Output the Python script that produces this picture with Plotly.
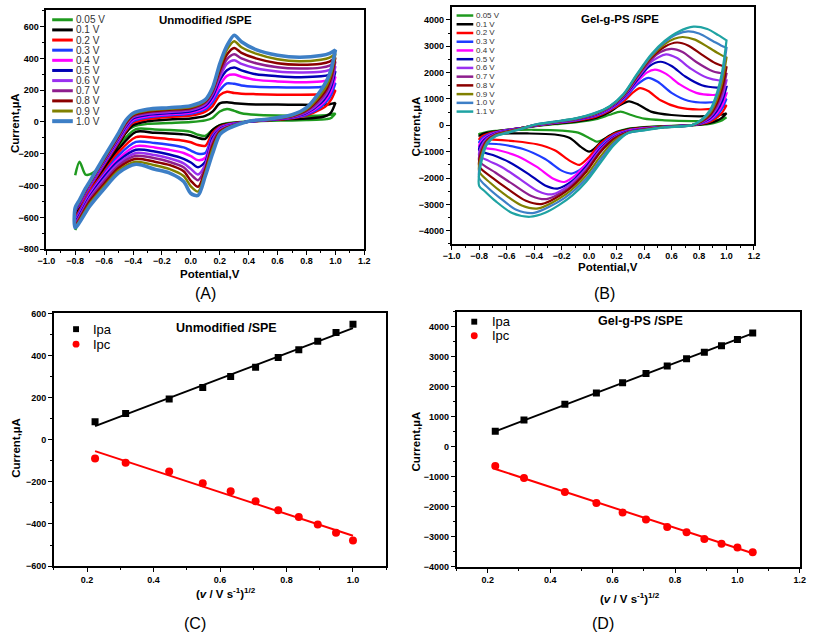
import plotly.graph_objects as go

W, H = 813, 642

# ---------------- Panel A data (Unmodified /SPE) ----------------
A_LABELS = ["0.05 V", "0.1 V", "0.2 V", "0.3 V", "0.4 V", "0.5 V", "0.6 V", "0.7 V", "0.8 V", "0.9 V", "1.0 V"]
A_COLORS = ["#1f9a1f", "#000000", "#ff0000", "#1f3cff", "#ff00ff", "#0000b4", "#9a30f0", "#8e1e8e", "#8b0000", "#808000", "#3d7fc6"]
A_E_UP = [-0.8, -0.77, -0.73, -0.7, -0.6, -0.5, -0.45, -0.4, -0.3, -0.15, 0.0,
          0.1, 0.15, 0.2, 0.25, 0.3, 0.35, 0.45, 0.6, 0.75, 0.9, 0.96, 1.0]
A_I_UP = [
    [-335, -250, -330, -330, -260, -130, -60, -30, -12, -6, 0, 10, 25, 66, 82, 70, 55, 45, 40, 38, 40, 45, 55],
    [-565, -525, -465, -420, -280, -140, -70, -20, 5, 16, 22, 38, 65, 117, 124, 118, 114, 110, 110, 108, 108, 112, 120],
    [-560, -520, -458, -413, -270, -128, -57, -5, 18, 32, 40, 65, 100, 169, 190, 182, 178, 175, 172, 172, 175, 182, 200],
    [-560, -518, -453, -406, -262, -120, -47, 5, 28, 42, 52, 80, 125, 200, 243, 240, 230, 222, 218, 217, 220, 230, 245],
    [-555, -513, -448, -400, -255, -112, -38, 14, 36, 49, 60, 92, 145, 231, 290, 298, 285, 265, 255, 250, 255, 265, 285],
    [-555, -510, -444, -396, -250, -105, -30, 22, 44, 56, 68, 102, 160, 262, 325, 342, 325, 300, 288, 282, 287, 298, 320],
    [-550, -506, -440, -392, -245, -98, -22, 30, 52, 63, 75, 112, 175, 283, 365, 388, 365, 338, 318, 312, 316, 328, 350],
    [-550, -503, -436, -388, -240, -92, -14, 36, 58, 70, 82, 120, 185, 304, 395, 426, 400, 370, 344, 336, 342, 355, 380],
    [-545, -500, -432, -385, -234, -85, -6, 42, 65, 77, 88, 128, 195, 324, 425, 466, 435, 400, 370, 360, 367, 380, 405],
    [-545, -495, -426, -380, -228, -78, 2, 48, 72, 83, 94, 134, 205, 345, 455, 508, 470, 430, 395, 382, 392, 405, 430],
    [-540, -490, -420, -375, -220, -70, 10, 55, 80, 90, 102, 140, 215, 366, 480, 546, 505, 455, 420, 407, 418, 432, 453],
]
A_E_LOW = [1.0, 0.97, 0.94, 0.9, 0.8, 0.7, 0.55, 0.4, 0.3, 0.25, 0.2, 0.15, 0.1, 0.05, 0.0,
           -0.05, -0.15, -0.25, -0.38, -0.5, -0.6, -0.7, -0.8]
A_I_LOW = [
    [55, 25, 18, 15, 12, 10, 8, 3, -3, -8, -20, -50, -88, -80, -62, -55, -50, -48, -45, -150, -300, -480, -680],
    [120, 60, 40, 30, 22, 18, 12, 2, -6, -12, -22, -50, -106, -100, -85, -78, -72, -68, -62, -170, -300, -430, -590],
    [200, 140, 105, 80, 42, 24, 13, 2, -8, -15, -30, -70, -150, -145, -128, -118, -108, -100, -95, -190, -315, -440, -600],
    [245, 170, 130, 95, 47, 26, 14, 2, -10, -18, -35, -85, -195, -200, -180, -160, -143, -132, -125, -210, -325, -450, -610],
    [285, 195, 148, 108, 52, 28, 15, 3, -12, -22, -40, -95, -225, -240, -215, -195, -175, -160, -152, -230, -335, -460, -620],
    [320, 220, 165, 120, 57, 30, 16, 3, -14, -25, -45, -100, -250, -285, -255, -232, -205, -186, -175, -245, -345, -470, -625],
    [350, 240, 180, 132, 62, 33, 17, 4, -16, -28, -50, -115, -270, -330, -295, -260, -228, -208, -195, -260, -360, -480, -635],
    [380, 260, 195, 145, 68, 35, 18, 4, -18, -32, -55, -135, -290, -366, -330, -285, -250, -228, -213, -275, -375, -490, -640],
    [405, 280, 210, 160, 75, 38, 18, 5, -20, -35, -62, -150, -300, -408, -370, -310, -270, -250, -232, -290, -390, -500, -650],
    [430, 300, 230, 175, 80, 40, 20, 5, -22, -40, -70, -170, -320, -438, -405, -340, -295, -272, -250, -305, -405, -515, -655],
    [453, 330, 260, 200, 90, 45, 20, 5, -25, -45, -80, -200, -340, -462, -450, -375, -320, -297, -266, -320, -420, -530, -665],
]

# ---------------- Panel B data (Gel-g-PS /SPE) ----------------
B_LABELS = ["0.05 V", "0.1 V", "0.2 V", "0.3 V", "0.4 V", "0.5 V", "0.6 V", "0.7 V", "0.8 V", "0.9 V", "1.0 V", "1.1 V"]
B_COLORS = ["#1f9a1f", "#000000", "#ff0000", "#1f3cff", "#ff00ff", "#0000b4", "#9a30f0", "#8e1e8e", "#8b0000", "#808000", "#3d7fc6", "#1fa3a3"]
B_E_LEFT = [-0.8, -0.78, -0.74, -0.68, -0.6, -0.5, -0.4, -0.25, -0.1, 0.05]
B_I_LEFT = [
    [-330, -300, -260, -220, -170, -110, -40, 40, 110, 230],
    [-400, -340, -280, -230, -175, -110, -30, 60, 140, 280],
    [-520, -420, -330, -250, -180, -110, -25, 80, 170, 330],
    [-650, -500, -370, -270, -185, -110, -20, 90, 190, 360],
    [-800, -580, -410, -285, -190, -110, -15, 100, 205, 385],
    [-950, -660, -450, -300, -200, -110, -10, 110, 215, 405],
    [-1150, -760, -490, -320, -215, -115, -5, 115, 225, 420],
    [-1350, -860, -530, -340, -230, -120, 0, 120, 235, 435],
    [-1550, -960, -570, -360, -245, -125, 5, 125, 245, 450],
    [-1750, -1060, -610, -380, -260, -130, 10, 130, 250, 460],
    [-2000, -1180, -650, -400, -280, -140, 15, 135, 255, 470],
    [-2300, -1300, -700, -420, -300, -150, 20, 140, 260, 480],
]
B_E_RIGHT = [
    [0.15, 0.23, 0.3, 0.4, 0.55, 0.75, 0.9, 0.96, 1.0],
    [0.15, 0.22, 0.29, 0.36, 0.45, 0.6, 0.8, 0.92, 0.97, 1.0],
    [0.15, 0.25, 0.32, 0.37, 0.43, 0.52, 0.65, 0.8, 0.92, 0.97, 1.0],
    [0.15, 0.25, 0.35, 0.43, 0.5, 0.6, 0.72, 0.85, 0.95, 1.0],
    [0.15, 0.25, 0.35, 0.42, 0.48, 0.56, 0.66, 0.78, 0.9, 1.0],
    [0.15, 0.25, 0.35, 0.44, 0.52, 0.6, 0.7, 0.82, 0.93, 1.0],
    [0.15, 0.25, 0.35, 0.45, 0.56, 0.64, 0.74, 0.86, 0.95, 1.0],
    [0.15, 0.25, 0.35, 0.45, 0.52, 0.6, 0.68, 0.78, 0.9, 1.0],
    [0.15, 0.25, 0.35, 0.45, 0.55, 0.64, 0.72, 0.82, 0.92, 1.0],
    [0.15, 0.25, 0.35, 0.45, 0.55, 0.62, 0.68, 0.77, 0.87, 0.95, 1.0],
    [0.15, 0.25, 0.35, 0.45, 0.55, 0.64, 0.72, 0.8, 0.9, 0.96, 1.0],
    [0.15, 0.25, 0.35, 0.45, 0.55, 0.65, 0.76, 0.86, 0.94, 1.0],
]
B_I_RIGHT = [
    [400, 520, 400, 250, 190, 160, 180, 220, 300],
    [500, 750, 910, 780, 520, 390, 340, 370, 410, 460],
    [560, 900, 1250, 1410, 1300, 950, 680, 600, 640, 700, 760],
    [600, 980, 1550, 1800, 1650, 1230, 930, 860, 920, 1000],
    [630, 1030, 1650, 2000, 2110, 1950, 1550, 1230, 1150, 1200],
    [650, 1060, 1720, 2250, 2410, 2250, 1850, 1520, 1430, 1450],
    [670, 1090, 1780, 2400, 2690, 2550, 2150, 1800, 1700, 1700],
    [690, 1110, 1830, 2480, 2780, 2900, 2780, 2400, 2050, 1950],
    [700, 1130, 1870, 2550, 2980, 3140, 3030, 2680, 2350, 2200],
    [710, 1150, 1900, 2600, 3080, 3280, 3350, 3250, 2950, 2700, 2570],
    [720, 1170, 1930, 2640, 3150, 3450, 3560, 3480, 3200, 3030, 2940],
    [730, 1190, 1960, 2680, 3200, 3550, 3740, 3650, 3420, 3220],
]
B_E_LOW = [
    [1.0, 0.97, 0.93, 0.88, 0.82, 0.75, 0.55, 0.4, 0.28, 0.2, 0.13, 0.06, 0.0, -0.08, -0.2, -0.4, -0.6, -0.72, -0.8],
    [1.0, 0.97, 0.93, 0.88, 0.82, 0.75, 0.55, 0.4, 0.28, 0.18, 0.1, 0.04, 0.0, -0.06, -0.14, -0.25, -0.45, -0.65, -0.8],
    [1.0, 0.97, 0.93, 0.88, 0.82, 0.75, 0.55, 0.4, 0.28, 0.18, 0.08, 0.0, -0.07, -0.14, -0.25, -0.38, -0.55, -0.7, -0.8],
    [1.0, 0.97, 0.93, 0.88, 0.82, 0.75, 0.55, 0.4, 0.28, 0.18, 0.08, 0.0, -0.07, -0.13, -0.2, -0.32, -0.48, -0.65, -0.8],
    [1.0, 0.97, 0.93, 0.88, 0.82, 0.75, 0.55, 0.4, 0.28, 0.18, 0.08, -0.02, -0.1, -0.18, -0.26, -0.38, -0.52, -0.68, -0.8],
    [1.0, 0.97, 0.93, 0.88, 0.82, 0.75, 0.55, 0.4, 0.28, 0.18, 0.08, -0.02, -0.12, -0.23, -0.32, -0.44, -0.58, -0.7, -0.8],
    [1.0, 0.97, 0.93, 0.88, 0.82, 0.75, 0.55, 0.4, 0.28, 0.18, 0.08, -0.02, -0.14, -0.27, -0.37, -0.5, -0.63, -0.73, -0.8],
    [1.0, 0.97, 0.93, 0.88, 0.82, 0.75, 0.55, 0.4, 0.28, 0.18, 0.08, -0.02, -0.15, -0.31, -0.42, -0.55, -0.68, -0.8],
    [1.0, 0.97, 0.93, 0.88, 0.82, 0.75, 0.55, 0.4, 0.28, 0.18, 0.08, -0.02, -0.16, -0.34, -0.46, -0.59, -0.7, -0.8],
    [1.0, 0.97, 0.93, 0.88, 0.82, 0.75, 0.55, 0.4, 0.28, 0.18, 0.08, -0.02, -0.17, -0.37, -0.49, -0.62, -0.72, -0.8],
    [1.0, 0.97, 0.93, 0.88, 0.82, 0.75, 0.55, 0.4, 0.28, 0.18, 0.08, -0.02, -0.18, -0.4, -0.53, -0.65, -0.74, -0.8],
    [1.0, 0.97, 0.93, 0.88, 0.82, 0.75, 0.55, 0.4, 0.28, 0.18, 0.08, -0.02, -0.12, -0.22, -0.32, -0.43, -0.56, -0.68, -0.76, -0.8],
]
B_I_LOW = [
    [300, 195, 115, 55, 20, 5, -30, -70, -130, -250, -470, -620, -480, -280, -200, -170, -190, -230, -330],
    [460, 300, 175, 85, 30, 5, -40, -80, -150, -300, -560, -880, -1000, -820, -480, -350, -310, -320, -400],
    [760, 495, 290, 135, 50, 5, -50, -100, -180, -330, -700, -1200, -1500, -1350, -950, -720, -600, -540, -520],
    [1000, 650, 380, 180, 70, 5, -55, -110, -200, -380, -780, -1350, -1700, -1830, -1720, -1280, -900, -720, -650],
    [1200, 780, 455, 215, 85, 5, -60, -120, -220, -420, -850, -1450, -1900, -2150, -2030, -1580, -1170, -920, -800],
    [1450, 940, 550, 260, 100, 5, -60, -130, -240, -450, -900, -1550, -2100, -2400, -2280, -1850, -1400, -1130, -950],
    [1700, 1100, 645, 305, 120, 5, -65, -140, -260, -480, -950, -1630, -2250, -2620, -2500, -2050, -1600, -1350, -1150],
    [1950, 1270, 740, 350, 135, 5, -65, -150, -270, -500, -990, -1700, -2380, -2800, -2680, -2250, -1800, -1350],
    [2200, 1430, 835, 395, 155, 5, -70, -160, -280, -520, -1030, -1760, -2480, -2980, -2860, -2420, -2000, -1550],
    [2570, 1670, 975, 460, 180, 5, -70, -170, -290, -600, -1200, -1900, -2620, -3150, -3040, -2600, -2180, -1750],
    [2940, 1910, 1115, 530, 205, 5, -75, -180, -300, -680, -1320, -2020, -2760, -3320, -3200, -2750, -2350, -2000],
    [3220, 2090, 1225, 580, 225, 5, -80, -190, -300, -760, -1440, -2130, -2650, -3030, -3320, -3470, -3330, -2880, -2500, -2300],
]

# ---------------- Panels C / D data ----------------
C_X = [0.224, 0.316, 0.447, 0.548, 0.632, 0.707, 0.775, 0.837, 0.894, 0.949, 1.0]
C_IPA = [86, 125, 194, 248, 301, 344, 391, 428, 468, 509, 548]
C_IPC = [-89, -109, -151, -206, -245, -292, -335, -367, -402, -441, -478]
C_FIT_X = [0.224, 1.0]
C_FIT_IPA = [65, 530]
C_FIT_IPC = [-54, -456]

D_X = [0.224, 0.316, 0.447, 0.548, 0.632, 0.707, 0.775, 0.837, 0.894, 0.949, 1.0, 1.049]
D_IPA = [516, 896, 1418, 1791, 2137, 2444, 2693, 2935, 3150, 3370, 3575, 3794]
D_IPC = [-640, -1043, -1510, -1870, -2186, -2425, -2677, -2850, -3069, -3232, -3353, -3516]
D_FIT_X = [0.224, 1.049]
D_FIT_IPA = [516, 3784]
D_FIT_IPC = [-739, -3549]

FONT = "Liberation Sans, Arial, sans-serif"

def pxx(x):
    return x / W

def pxy(y):
    return 1 - y / H

fig = go.Figure()

# Panel A curves
for i in range(len(A_LABELS)):
    xs = A_E_UP + A_E_LOW
    ys = A_I_UP[i] + A_I_LOW[i]
    if i > 0:
        xs = xs + [A_E_UP[0]]
        ys = ys + [A_I_UP[i][0]]
    fig.add_trace(go.Scatter(x=xs, y=ys, mode="lines", xaxis="x", yaxis="y",
                             line=dict(color=A_COLORS[i], width=3.6 if i == len(A_LABELS) - 1 else 2.5,
                                       shape="spline", smoothing=0.8),
                             showlegend=False, hoverinfo="skip"))

# Panel B curves
for i in range(len(B_LABELS)):
    xs = B_E_LEFT + B_E_RIGHT[i] + B_E_LOW[i]
    ys = B_I_LEFT[i] + B_I_RIGHT[i] + B_I_LOW[i]
    fig.add_trace(go.Scatter(x=xs, y=ys, mode="lines", xaxis="x2", yaxis="y2",
                             line=dict(color=B_COLORS[i], width=2.2, shape="spline", smoothing=0.8),
                             showlegend=False, hoverinfo="skip"))

# Panel C
fig.add_trace(go.Scatter(x=C_FIT_X, y=C_FIT_IPA, mode="lines", xaxis="x3", yaxis="y3",
                         line=dict(color="black", width=2), showlegend=False))
fig.add_trace(go.Scatter(x=C_FIT_X, y=C_FIT_IPC, mode="lines", xaxis="x3", yaxis="y3",
                         line=dict(color="#ff0000", width=2), showlegend=False))
fig.add_trace(go.Scatter(x=C_X, y=C_IPA, mode="markers", xaxis="x3", yaxis="y3",
                         marker=dict(symbol="square", size=7, color="black"), showlegend=False))
fig.add_trace(go.Scatter(x=C_X, y=C_IPC, mode="markers", xaxis="x3", yaxis="y3",
                         marker=dict(symbol="circle", size=8, color="#ff0000"), showlegend=False))

# Panel D
fig.add_trace(go.Scatter(x=D_FIT_X, y=D_FIT_IPA, mode="lines", xaxis="x4", yaxis="y4",
                         line=dict(color="black", width=2), showlegend=False))
fig.add_trace(go.Scatter(x=D_FIT_X, y=D_FIT_IPC, mode="lines", xaxis="x4", yaxis="y4",
                         line=dict(color="#ff0000", width=2), showlegend=False))
fig.add_trace(go.Scatter(x=D_X, y=D_IPA, mode="markers", xaxis="x4", yaxis="y4",
                         marker=dict(symbol="square", size=7, color="black"), showlegend=False))
fig.add_trace(go.Scatter(x=D_X, y=D_IPC, mode="markers", xaxis="x4", yaxis="y4",
                         marker=dict(symbol="circle", size=8, color="#ff0000"), showlegend=False))


def ax(domain, rng, dtick, tick0, minor, anchor, fmt, standoff):
    return dict(domain=domain, range=rng, dtick=dtick, tick0=tick0, tickformat=fmt,
                anchor=anchor, showgrid=False, zeroline=False, showline=True, linecolor="black",
                linewidth=1.6, mirror=True, ticks="outside", ticklen=4, tickwidth=1.2, tickcolor="black",
                ticklabelstandoff=standoff,
                minor=dict(dtick=minor, tick0=tick0, ticks="outside", ticklen=2, tickcolor="black", tickwidth=1),
                tickfont=dict(family=FONT, size=9, color="black", weight="bold"))

layout = dict(
    width=W, height=H, margin=dict(l=0, r=0, t=0, b=0),
    paper_bgcolor="white", plot_bgcolor="white", showlegend=False,
    xaxis=ax([pxx(38), pxx(362)], [-1.0, 1.2], 0.2, -1.0, 0.1, "y", ".1f", -2),
    yaxis=ax([pxy(248), pxy(5)], [-800, 705], 200, -800, 100, "x", "d", 0),
    xaxis2=ax([pxx(451), pxx(759)], [-1.0, 1.2], 0.2, -1.0, 0.1, "y2", ".1f", -2),
    yaxis2=ax([pxy(242.7), pxy(2.5)], [-4500, 4470], 1000, -4000, 500, "x2", "d", 0),
    xaxis3=ax([pxx(45.7), pxx(384.3)], [0.1, 1.1], 0.2, 0.2, 0.1, "y3", ".1f", 0),
    yaxis3=ax([pxy(570), pxy(313.3)], [-600, 600], 200, -600, 100, "x3", "d", 0),
    xaxis4=ax([pxx(456), pxx(805.7)], [0.1, 1.2], 0.2, 0.2, 0.1, "y4", ".1f", 0),
    yaxis4=ax([pxy(570.7), pxy(311.7)], [-4000, 4500], 1000, -4000, 500, "x4", "d", 0),
)
fig.update_layout(**layout)

shapes = []
annotations = []

def text(x, y, s, size, bold=True, angle=0, anchor="center", color="black", family=FONT):
    annotations.append(dict(x=pxx(x), y=pxy(y), xref="paper", yref="paper", text=s, showarrow=False,
                            xanchor=anchor, yanchor="middle", textangle=angle,
                            font=dict(family=family, size=size, color=color, weight="bold" if bold else "normal")))

# Legend A
for i, lab in enumerate(A_LABELS):
    yy = 15 + i * 10.3
    shapes.append(dict(type="line", xref="paper", yref="paper", x0=pxx(44), x1=pxx(65), y0=pxy(yy), y1=pxy(yy),
                       line=dict(color=A_COLORS[i], width=3 if i < len(A_LABELS) - 1 else 4)))
    text(66, yy, lab, 10, bold=False, anchor="left", color="#333333")

# Legend B
for i, lab in enumerate(B_LABELS):
    yy = 10.7 + i * 8.87
    shapes.append(dict(type="line", xref="paper", yref="paper", x0=pxx(456), x1=pxx(473), y0=pxy(yy), y1=pxy(yy),
                       line=dict(color=B_COLORS[i], width=2.5)))
    text(474, yy, lab, 8, bold=False, anchor="left", color="#333333")

# Legends C and D
for (mx, my1, my2, tx) in [(68.3, 329.3, 344.5, 84), (474, 321.7, 336, 490)]:
    shapes.append(dict(type="rect", xref="paper", yref="paper", x0=pxx(mx - 3), x1=pxx(mx + 3),
                       y0=pxy(my1 - 3), y1=pxy(my1 + 3), fillcolor="black", line=dict(width=0)))
    shapes.append(dict(type="circle", xref="paper", yref="paper", x0=pxx(mx - 3.5), x1=pxx(mx + 3.5),
                       y0=pxy(my2 - 3.5), y1=pxy(my2 + 3.5), fillcolor="#ff0000", line=dict(width=0)))
    text(tx, my1, "Ipa", 13, bold=False, anchor="left")
    text(tx, my2, "Ipc", 13, bold=False, anchor="left")

# Titles
text(200, 15, "Unmodified /SPE", 11.5)
text(622, 14, "Gel-g-PS /SPE", 11.5)
text(222, 328, "Unmodified /SPE", 12.5)
text(643, 321.5, "Gel-g-PS /SPE", 12.5)

# Axis titles
text(205, 273.5, "Potential,V", 11.5)
text(610, 266.5, "Potential,V", 11.5)
text(6, 120, "Current,µA", 11.5, angle=-90)
text(415, 123, "Current,µA", 11.5, angle=-90)
xt = "(<i>v</i> / V s<sup>-1</sup>)<sup>1/2</sup>"
text(221, 597, xt, 11.5)
text(633, 602, xt, 11.5)
text(7, 450, "Current,µA", 11.5, angle=-90)
text(415, 443, "Current,µA", 11.5, angle=-90)

# Panel labels
text(200, 293, "(A)", 16, bold=False)
text(607, 293, "(B)", 16, bold=False)
text(190, 628, "(C)", 16, bold=False)
text(605, 628, "(D)", 16, bold=False)

fig.update_layout(shapes=shapes, annotations=annotations)
fig.write_html("out.html")
